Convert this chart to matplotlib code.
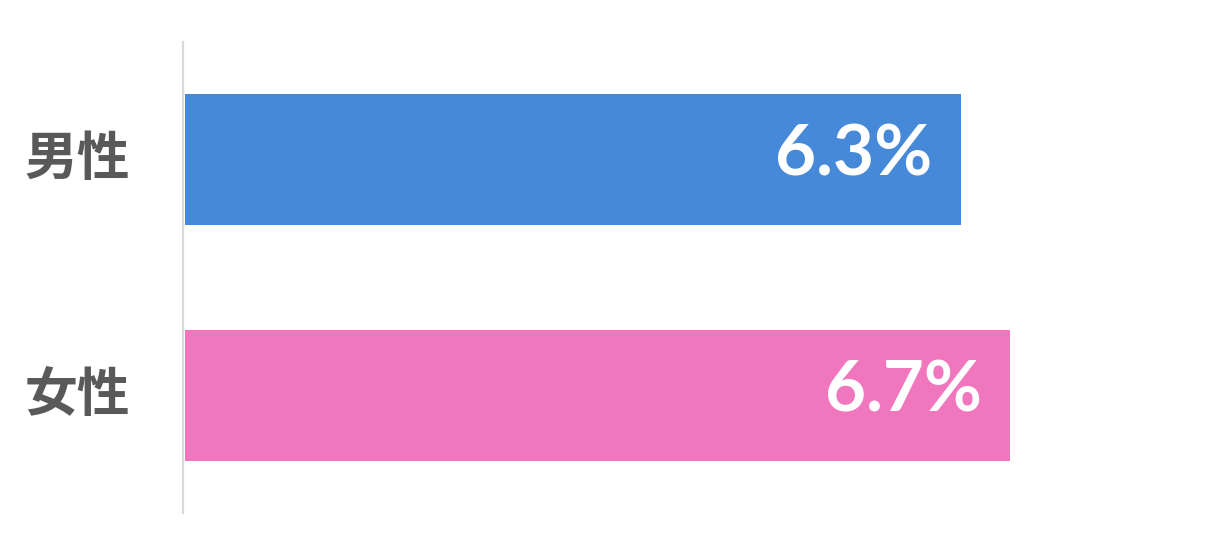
import matplotlib.pyplot as plt

categories = ["男性", "女性"]
values = [6.3, 6.7]
labels = ["6.3%", "6.7%"]
colors = ["#4689d8", "#f076be"]

fig = plt.figure(figsize=(12.13, 5.56), dpi=100)
ax = fig.add_axes([185 / 1213, 43 / 556, 1028 / 1213, 471 / 556])

ypos = [1, 0]
ax.barh(ypos, values, height=0.555, color=colors, zorder=2)

for y, v, lab in zip(ypos, values, labels):
    ax.text(v - 0.23, y + 0.02, lab, ha="right", va="center", color="white",
            fontsize=51, fontweight="bold", family=["Lato", "DejaVu Sans"])

# category names left of the axis line
for y, cat in zip(ypos, categories):
    ax.text(-55 / 1028, y, cat, transform=ax.get_yaxis_transform(),
            ha="right", va="center", color="#595959", fontsize=38,
            fontweight="bold", family=["Noto Sans CJK JP", "DejaVu Sans"])

ax.set_xlim(0, 1028 / 123.15)
ax.set_ylim(-0.5, 1.5)
ax.set_yticks([])
ax.set_xticks([])

for side in ["top", "right", "bottom"]:
    ax.spines[side].set_visible(False)
ax.spines["left"].set_color("#d9d9d9")
ax.spines["left"].set_linewidth(1.6)
ax.spines["left"].set_position(("data", -0.015))

fig.savefig("out.png", dpi=100)
